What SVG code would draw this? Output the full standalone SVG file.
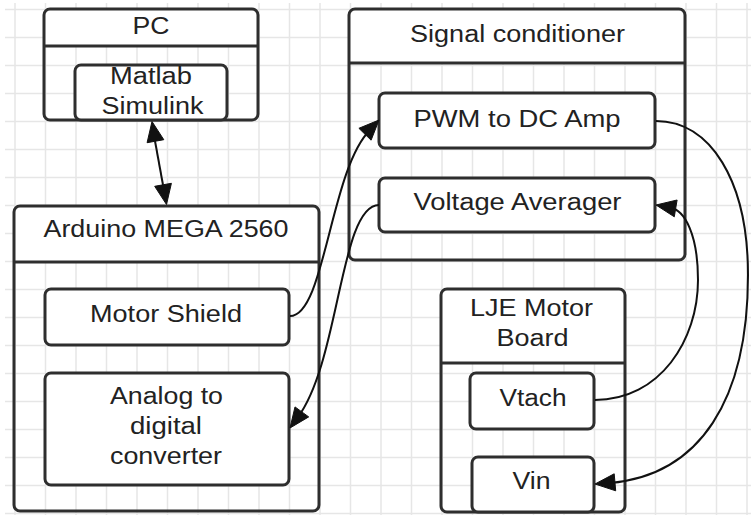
<svg xmlns="http://www.w3.org/2000/svg" width="751" height="515" viewBox="0 0 751 515">
<defs>
<style>
.grid{stroke:#e6e6e6;stroke-width:1.5;fill:none}
.box{fill:#fff;stroke:#2e2e2e;stroke-width:3}
.cont{fill:none;stroke:#2e2e2e;stroke-width:3}
.hdr{fill:#fff;stroke:none}
.sep{stroke:#2e2e2e;stroke-width:3}
.lbl{font-family:"Liberation Sans",Arial,sans-serif;font-size:23.5px;fill:#222;text-anchor:middle}
.conn{fill:none;stroke:#111;stroke-width:2}
.head{fill:#111;stroke:#111;stroke-width:1;stroke-linejoin:miter}
</style>
</defs>
<rect width="751" height="515" fill="#fff"/>
<path class="grid" d="M15,3V515M45.5,3V515M76,3V515M106.5,3V515M137,3V515M167.5,3V515M198,3V515M228.5,3V515M259,3V515M289.5,3V515M320,3V515M350.5,3V515M381,3V515M411.5,3V515M442,3V515M472.5,3V515M503,3V515M533.5,3V515M564,3V515M594.5,3V515M625,3V515M655.5,3V515M686,3V515M716.5,3V515M747,3V515M5,9.5H751M5,37.5H751M5,65.5H751M5,93.5H751M5,121.5H751M5,149.5H751M5,177.5H751M5,205.5H751M5,233.5H751M5,261.5H751M5,289.5H751M5,317.5H751M5,345.5H751M5,373.5H751M5,401.5H751M5,429.5H751M5,457.5H751M5,485.5H751M5,513.5H751"/>

<g id="pc">
<path class="hdr" d="M44,46V15a6,6 0 0 1 6,-6H252a6,6 0 0 1 6,6V46z"/>
<rect class="cont" x="44" y="9" width="214" height="111" rx="6"/>
<line class="sep" x1="44" y1="46" x2="258" y2="46"/>
<text class="lbl" x="151" y="33.5" textLength="37" lengthAdjust="spacingAndGlyphs">PC</text>
</g>
<g id="matlab">
<rect class="box" x="75" y="65" width="152" height="55" rx="6"/>
<text class="lbl" x="151" y="84" textLength="82" lengthAdjust="spacingAndGlyphs">Matlab</text>
<text class="lbl" x="152.5" y="114" textLength="102" lengthAdjust="spacingAndGlyphs">Simulink</text>
</g>

<g id="arduino">
<path class="hdr" d="M14,262V212a6,6 0 0 1 6,-6H313a6,6 0 0 1 6,6V262z"/>
<rect class="cont" x="14" y="206" width="305" height="305" rx="6"/>
<line class="sep" x1="14" y1="262" x2="319" y2="262"/>
<text class="lbl" x="166" y="237" textLength="245" lengthAdjust="spacingAndGlyphs">Arduino MEGA 2560</text>
</g>
<g id="motorshield">
<rect class="box" x="45" y="289" width="244" height="56" rx="6"/>
<text class="lbl" x="166" y="322" textLength="152" lengthAdjust="spacingAndGlyphs">Motor Shield</text>
</g>
<g id="adc">
<rect class="box" x="45" y="373" width="244" height="112" rx="6"/>
<text class="lbl" x="166.5" y="404" textLength="113" lengthAdjust="spacingAndGlyphs">Analog to</text>
<text class="lbl" x="166" y="434" textLength="72" lengthAdjust="spacingAndGlyphs">digital</text>
<text class="lbl" x="166" y="463.5" textLength="112" lengthAdjust="spacingAndGlyphs">converter</text>
</g>

<g id="signal">
<path class="hdr" d="M349,63V15a6,6 0 0 1 6,-6H679a6,6 0 0 1 6,6V63z"/>
<rect class="cont" x="349" y="9" width="336" height="251" rx="6"/>
<line class="sep" x1="349" y1="63" x2="685" y2="63"/>
<text class="lbl" x="517.5" y="42" textLength="215" lengthAdjust="spacingAndGlyphs">Signal conditioner</text>
</g>
<g id="pwm">
<rect class="box" x="379" y="93" width="276" height="55" rx="6"/>
<text class="lbl" x="517" y="127" textLength="207" lengthAdjust="spacingAndGlyphs">PWM to DC Amp</text>
</g>
<g id="averager">
<rect class="box" x="379" y="178" width="276" height="54" rx="6"/>
<text class="lbl" x="517.5" y="210" textLength="208" lengthAdjust="spacingAndGlyphs">Voltage Averager</text>
</g>

<g id="lje">
<path class="hdr" d="M441,363V295a6,6 0 0 1 6,-6H619a6,6 0 0 1 6,6V363z"/>
<rect class="cont" x="441" y="289" width="184" height="223" rx="6"/>
<line class="sep" x1="441" y1="363" x2="625" y2="363"/>
<text class="lbl" x="531.5" y="316" textLength="123" lengthAdjust="spacingAndGlyphs">LJE Motor</text>
<text class="lbl" x="532.5" y="346" textLength="72" lengthAdjust="spacingAndGlyphs">Board</text>
</g>
<g id="vtach">
<rect class="box" x="470" y="373" width="124" height="56" rx="6"/>
<text class="lbl" x="533" y="406" textLength="67" lengthAdjust="spacingAndGlyphs">Vtach</text>
</g>
<g id="vin">
<rect class="box" x="472" y="457" width="122" height="55" rx="6"/>
<text class="lbl" x="531.5" y="489" textLength="38" lengthAdjust="spacingAndGlyphs">Vin</text>
</g>

<g id="connectors">
<line class="conn" x1="155" y1="141" x2="163" y2="185"/>
<polygon class="head" points="152,121.5 147.1,142.7 163.8,139.7"/>
<polygon class="head" points="166.5,204.5 154.7,186.3 171.4,183.3"/>
<path class="conn" d="M290,316 C325,316 330,170 370,130"/>
<polygon class="head" points="379,120 371.1,140.2 358.9,128.3"/>
<path class="conn" d="M379,205 C340,205 340,360 298,417"/>
<polygon class="head" points="290,428 308.7,416.9 295,406.9"/>
<path class="conn" d="M656,121 C710,121 748,180 748,275 C748,400 700,475 610,483"/>
<polygon class="head" points="595,484 615.7,490.8 614.2,473.8"/>
<path class="conn" d="M595,400 C660,400 698,340 698,280 C698,235 685,210 670,207.5"/>
<polygon class="head" points="656,205 674.3,216.8 677.1,200"/>
</g>
</svg>
